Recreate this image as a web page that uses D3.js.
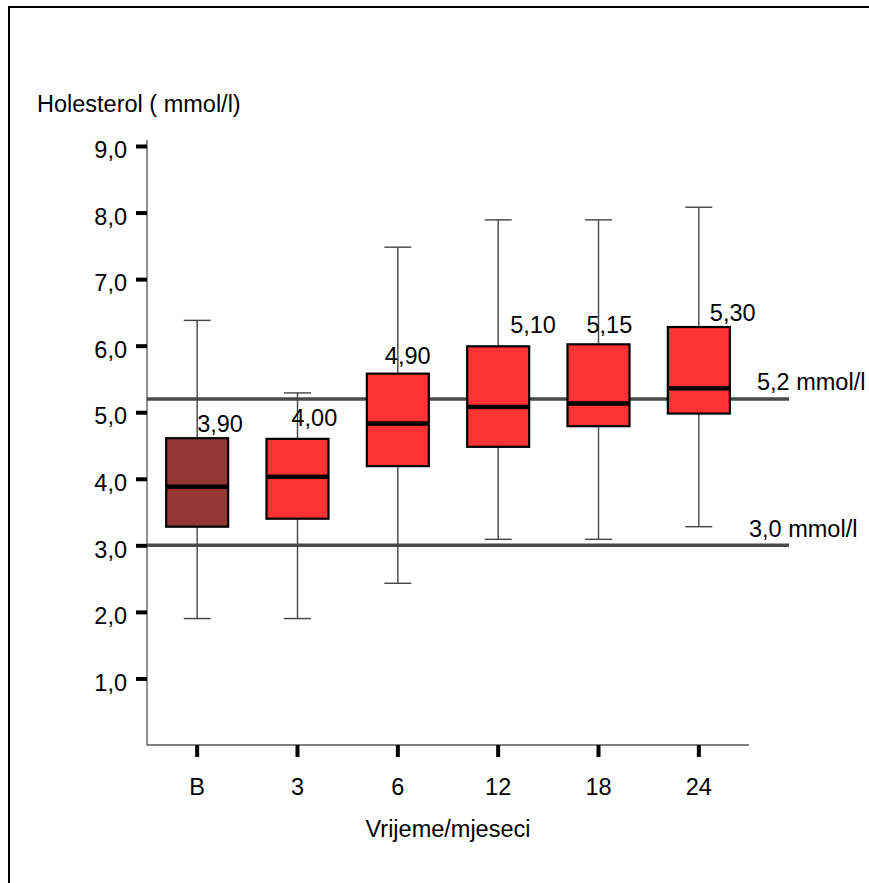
<!DOCTYPE html>
<html>
<head>
<meta charset="utf-8">
<script src="https://cdn.jsdelivr.net/npm/d3@7"></script>
<style>
  html, body { margin: 0; padding: 0; background: #fff; }
  svg { display: block; }
  text { font-family: "Liberation Sans", Arial, Helvetica, sans-serif; fill: #000; }
</style>
</head>
<body>
<script>
// ---- data ----
const categories = ["B", "3", "6", "12", "18", "24"];
const whiskerLow  = [1.90, 1.90, 2.43, 3.09, 3.09, 3.28];
const q1          = [3.28, 3.40, 4.19, 4.48, 4.79, 4.98];
const median      = [3.88, 4.03, 4.83, 5.08, 5.13, 5.36];
const q3          = [4.61, 4.60, 5.58, 5.99, 6.02, 6.28];
const whiskerHigh = [6.38, 5.29, 7.48, 7.89, 7.89, 8.08];
const valueLabels = ["3,90", "4,00", "4,90", "5,10", "5,15", "5,30"];
const yTicks = [1, 2, 3, 4, 5, 6, 7, 8, 9];
const refValues = [5.2, 3.0];
const refLabels = ["5,2 mmol/l", "3,0 mmol/l"];
const yTitle = "Holesterol ( mmol/l)";
const xTitle = "Vrijeme/mjeseci";

// ---- layout / style (not data) ----
const W = 869, H = 883;
const fs = 23.5;
const boxColors = ["#943634", "#FF3333", "#FF3333", "#FF3333", "#FF3333", "#FF3333"];
const labelNudge = [[0, -6], [-6, -13], [-13, -10], [12, -13], [-12, -11], [11, -6]];
const refLabelNudge = [[-32, -9], [-40, -8]];

const svg = d3.select("body").append("svg").attr("width", W).attr("height", H);

// frame
svg.append("line").attr("x1", 8).attr("x2", W + 5).attr("y1", 7).attr("y2", 7)
  .attr("stroke", "#000").attr("stroke-width", 2);
svg.append("line").attr("x1", 9).attr("x2", 9).attr("y1", 6).attr("y2", H + 5)
  .attr("stroke", "#000").attr("stroke-width", 2);

const x = d3.scaleBand().domain(categories).range([147, 749]).padding(0);
const y = d3.scaleLinear().domain([0, 9]).range([745, 146]);
const cx = c => x(c) + x.bandwidth() / 2;

// axis lines
svg.append("line").attr("x1", 147).attr("x2", 147).attr("y1", 140).attr("y2", 745)
  .attr("stroke", "#555").attr("stroke-width", 1.3);
svg.append("line").attr("x1", 147).attr("x2", 749).attr("y1", 745).attr("y2", 745)
  .attr("stroke", "#555").attr("stroke-width", 1.3);

// y axis
const fmt = d3.format(".1f");
const gy = svg.append("g").attr("transform", "translate(147,0)")
  .call(d3.axisLeft(y).tickValues(yTicks).tickSize(11).tickPadding(9)
    .tickFormat(d => fmt(d).replace(".", ",")));
gy.select(".domain").remove();
gy.selectAll(".tick line").attr("stroke", "#000").attr("stroke-width", 4);
gy.selectAll(".tick text").attr("font-size", fs).attr("dy", "0.5em")
  .style("font-family", "'Liberation Sans', Arial, sans-serif").attr("fill", "#000");

// x axis
const gx = svg.append("g").attr("transform", "translate(0,745)")
  .call(d3.axisBottom(x).tickSize(12).tickPadding(21));
gx.select(".domain").remove();
gx.selectAll(".tick line").attr("stroke", "#000").attr("stroke-width", 4);
gx.selectAll(".tick text").attr("font-size", fs)
  .style("font-family", "'Liberation Sans', Arial, sans-serif").attr("fill", "#000");

// titles
svg.append("text").attr("x", 37).attr("y", 112).attr("font-size", fs).text(yTitle);
svg.append("text").attr("x", 448).attr("y", 837).attr("text-anchor", "middle")
  .attr("font-size", fs).text(xTitle);

// reference lines
const refG = svg.append("g");
refValues.forEach((v, i) => {
  refG.append("line").attr("x1", 147).attr("x2", 789).attr("y1", y(v)).attr("y2", y(v))
    .attr("stroke", "#4a4a4a").attr("stroke-width", 3.5);
});

const boxW = 62, capW = 27;
const boxes = svg.append("g");
categories.forEach((c, i) => {
  const g = boxes.append("g");
  const xc = cx(c);
  // whiskers
  g.append("line").attr("x1", xc).attr("x2", xc).attr("y1", y(whiskerHigh[i])).attr("y2", y(q3[i]))
    .attr("stroke", "#444").attr("stroke-width", 1.4);
  g.append("line").attr("x1", xc).attr("x2", xc).attr("y1", y(q1[i])).attr("y2", y(whiskerLow[i]))
    .attr("stroke", "#444").attr("stroke-width", 1.4);
  g.append("line").attr("x1", xc - capW / 2).attr("x2", xc + capW / 2)
    .attr("y1", y(whiskerHigh[i])).attr("y2", y(whiskerHigh[i]))
    .attr("stroke", "#444").attr("stroke-width", 1.4);
  g.append("line").attr("x1", xc - capW / 2).attr("x2", xc + capW / 2)
    .attr("y1", y(whiskerLow[i])).attr("y2", y(whiskerLow[i]))
    .attr("stroke", "#444").attr("stroke-width", 1.4);
  // box
  g.append("rect").attr("x", xc - boxW / 2).attr("y", y(q3[i]))
    .attr("width", boxW).attr("height", y(q1[i]) - y(q3[i]))
    .attr("fill", boxColors[i]).attr("stroke", "#000").attr("stroke-width", 2.2);
  // median
  g.append("line").attr("x1", xc - boxW / 2).attr("x2", xc + boxW / 2)
    .attr("y1", y(median[i])).attr("y2", y(median[i]))
    .attr("stroke", "#000").attr("stroke-width", 4.5);
});

// value labels
categories.forEach((c, i) => {
  svg.append("text").attr("x", cx(c) + labelNudge[i][0]).attr("y", y(q3[i]) + labelNudge[i][1])
    .attr("font-size", fs).text(valueLabels[i]);
});

// reference labels
refValues.forEach((v, i) => {
  svg.append("text").attr("x", 789 + refLabelNudge[i][0]).attr("y", y(v) + refLabelNudge[i][1])
    .attr("font-size", fs).text(refLabels[i]);
});
</script>
</body>
</html>
